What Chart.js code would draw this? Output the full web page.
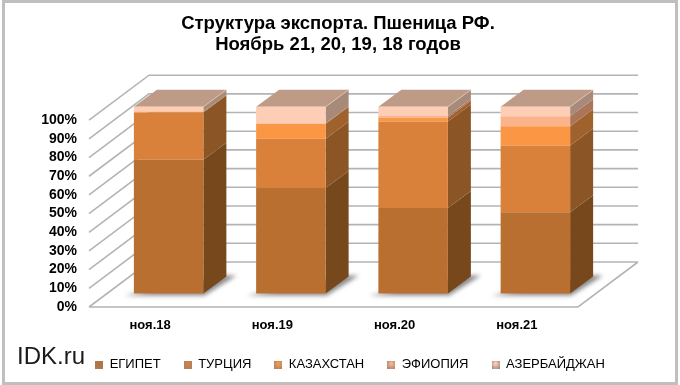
<!DOCTYPE html>
<html lang="ru">
<head>
<meta charset="utf-8">
<title>Структура экспорта</title>
<script src="https://cdn.jsdelivr.net/npm/chart.js@4"></script>
<style>
  body { margin: 0; background: #fff; }
  #frame { position: absolute; left: 2px; top: 0; width: 670px; height: 379px; border: 3px solid #bfbfbf; }
  #logo { position: absolute; left: 17px; top: 342px; font: 24px "Liberation Sans", Arial, sans-serif; color: #1a1a1a; }
  canvas { position: absolute; left: 0; top: 0; }
</style>
</head>
<body>
<div id="frame"></div>
<canvas id="chart" width="680" height="385"></canvas>
<div id="logo">IDK.ru</div>
<script>
const months = ["ноя.18", "ноя.19", "ноя.20", "ноя.21"];
const seriesNames = ["ЕГИПЕТ", "ТУРЦИЯ", "КАЗАХСТАН", "ЭФИОПИЯ", "АЗЕРБАЙДЖАН"];
const egypt = [71.6, 56.5, 45.8, 43.6];
const turkey = [25.4, 26.4, 46.3, 35.7];
const kazakhstan = [0.3, 8, 2, 10.3];
const ethiopia = [0, 0.2, 1, 5.4];
const azerbaijan = [2.7, 8.9, 4.9, 5];

const frontColors = ["#b96f30", "#d9803a", "#fb9744", "#fbb38c", "#fecdb5"];
const sideColors = ["#78481d", "#8b5526", "#a0622c", "#ab7559", "#a78a7a"];
const topColor = "#bd9b86";
const gridColor = "#b4b4b4";

const wallDepth = { x: 60, y: -45 };
const barShift = { x: 18.5, y: -13.4 };
const barDepth = { x: 23, y: -17 };

const allSeries = [egypt, turkey, kazakhstan, ethiopia, azerbaijan];

const legendMark = (color) => {
  const c = document.createElement("canvas");
  c.width = 8;
  c.height = 8;
  const g = c.getContext("2d");
  const grad = g.createRadialGradient(4, 3, 1, 4, 4, 5.5);
  grad.addColorStop(0, color);
  grad.addColorStop(1, "#9c8474");
  g.fillStyle = grad;
  g.fillRect(0, 0, 8, 8);
  return c;
};

const poly = (ctx, pts, fill) => {
  ctx.beginPath();
  ctx.moveTo(pts[0][0], pts[0][1]);
  for (let i = 1; i < pts.length; i++) ctx.lineTo(pts[i][0], pts[i][1]);
  ctx.closePath();
  ctx.fillStyle = fill;
  ctx.fill();
};

const walls = {
  id: "walls",
  afterLayout(chart) {
    // title and legend sit over the whole picture, not just the plot
    chart.titleBlock.left += 49;
    chart.titleBlock.right += 49;
    chart.legend.left += 61;
    chart.legend.right += 61;
    chart.legend.top -= 4;
    chart.legend.bottom -= 4;
  },
  beforeDatasetsDraw(chart) {
    const { ctx, scales, chartArea } = chart;
    const left = chartArea.left;
    const right = chartArea.right;
    ctx.save();
    ctx.strokeStyle = gridColor;
    ctx.lineWidth = 1.6;
    ctx.beginPath();
    scales.y.ticks.forEach((t) => {
      const y = scales.y.getPixelForValue(t.value);
      ctx.moveTo(left, y);
      ctx.lineTo(left + wallDepth.x, y + wallDepth.y);
      ctx.lineTo(right + wallDepth.x, y + wallDepth.y);
    });
    const floor = scales.y.getPixelForValue(0);
    ctx.moveTo(left, floor);
    ctx.lineTo(right, floor);
    ctx.lineTo(right + wallDepth.x, floor + wallDepth.y);
    ctx.stroke();
    ctx.restore();

    // every bar is moved into the middle of the floor, the native bars too
    ctx.save();
    ctx.translate(barShift.x, barShift.y);

    chart.getDatasetMeta(0).data.forEach((bar) => {
      const l = bar.x - bar.width / 2;
      const r = bar.x + bar.width / 2;
      const b = bar.base;
      ctx.save();
      ctx.filter = "blur(2px)";
      poly(ctx, [[l - 9, b + 2], [r + 1, b + 2], [r + 33, b - 18], [r + 20, b - 18]], "rgba(60,60,60,0.6)");
      ctx.restore();
    });

    chart.data.datasets.forEach((ds, i) => {
      chart.getDatasetMeta(i).data.forEach((bar) => {
        const r = bar.x + bar.width / 2;
        const dx = barDepth.x;
        const dy = barDepth.y;
        poly(ctx, [[r, bar.base], [r + dx, bar.base + dy], [r + dx, bar.y + dy], [r, bar.y]], sideColors[i]);
      });
    });

    const last = chart.getDatasetMeta(chart.data.datasets.length - 1).data;
    last.forEach((bar) => {
      const l = bar.x - bar.width / 2;
      const r = bar.x + bar.width / 2;
      const dx = barDepth.x;
      const dy = barDepth.y;
      poly(ctx, [[l, bar.y], [r, bar.y], [r + dx, bar.y + dy], [l + dx, bar.y + dy]], topColor);
      ctx.strokeStyle = "#d9bfae";
      ctx.lineWidth = 1;
      ctx.beginPath();
      ctx.moveTo(r, bar.y);
      ctx.lineTo(r + dx, bar.y + dy);
      ctx.stroke();
    });
  },
  afterDatasetsDraw(chart) {
    chart.ctx.restore();
  },
};

new Chart(document.getElementById("chart"), {
  type: "bar",
  data: {
    labels: months,
    datasets: seriesNames.map((name, i) => ({
      label: name,
      data: allSeries[i],
      backgroundColor: frontColors[i],
      clip: false,
    })),
  },
  plugins: [walls],
  options: {
    responsive: false,
    animation: false,
    barPercentage: 1,
    categoryPercentage: 0.5685,
    layout: { padding: { left: 0, right: 102, top: 0, bottom: 0 } },
    scales: {
      x: {
        stacked: true,
        grid: { display: false, drawTicks: false },
        border: { display: false },
        afterFit: (s) => { s.height = 32; },
        ticks: { color: "#000", font: { family: "Liberation Sans", size: 13, weight: "bold" }, padding: 11, maxRotation: 0 },
      },
      y: {
        stacked: true,
        min: 0,
        max: 100,
        grid: { display: false, drawTicks: false },
        border: { display: false },
        afterFit: (s) => { s.width = 89; },
        ticks: {
          stepSize: 10,
          autoSkip: false,
          color: "#000",
          padding: 12,
          font: { family: "Liberation Sans", size: 14, weight: "bold" },
          callback: (v) => v + "%",
        },
      },
    },
    plugins: {
      tooltip: { enabled: false },
      title: {
        display: true,
        text: ["Структура экспорта. Пшеница РФ.", "Ноябрь 21, 20, 19, 18 годов"],
        color: "#000",
        font: { family: "Liberation Sans", size: 18.5, weight: "bold", lineHeight: 1.1 },
        padding: { top: 14, bottom: 65.5 },
      },
      legend: {
        position: "bottom",
        labels: {
          color: "#000",
          font: { family: "Liberation Sans", size: 13 },
          usePointStyle: true,
          boxWidth: 8,
          boxHeight: 8,
          padding: 23,
          generateLabels: (chart) =>
            Chart.defaults.plugins.legend.labels.generateLabels(chart).map((item, i) => {
              item.pointStyle = legendMark(frontColors[i]);
              return item;
            }),
        },
      },
    },
  },
});
</script>
</body>
</html>
